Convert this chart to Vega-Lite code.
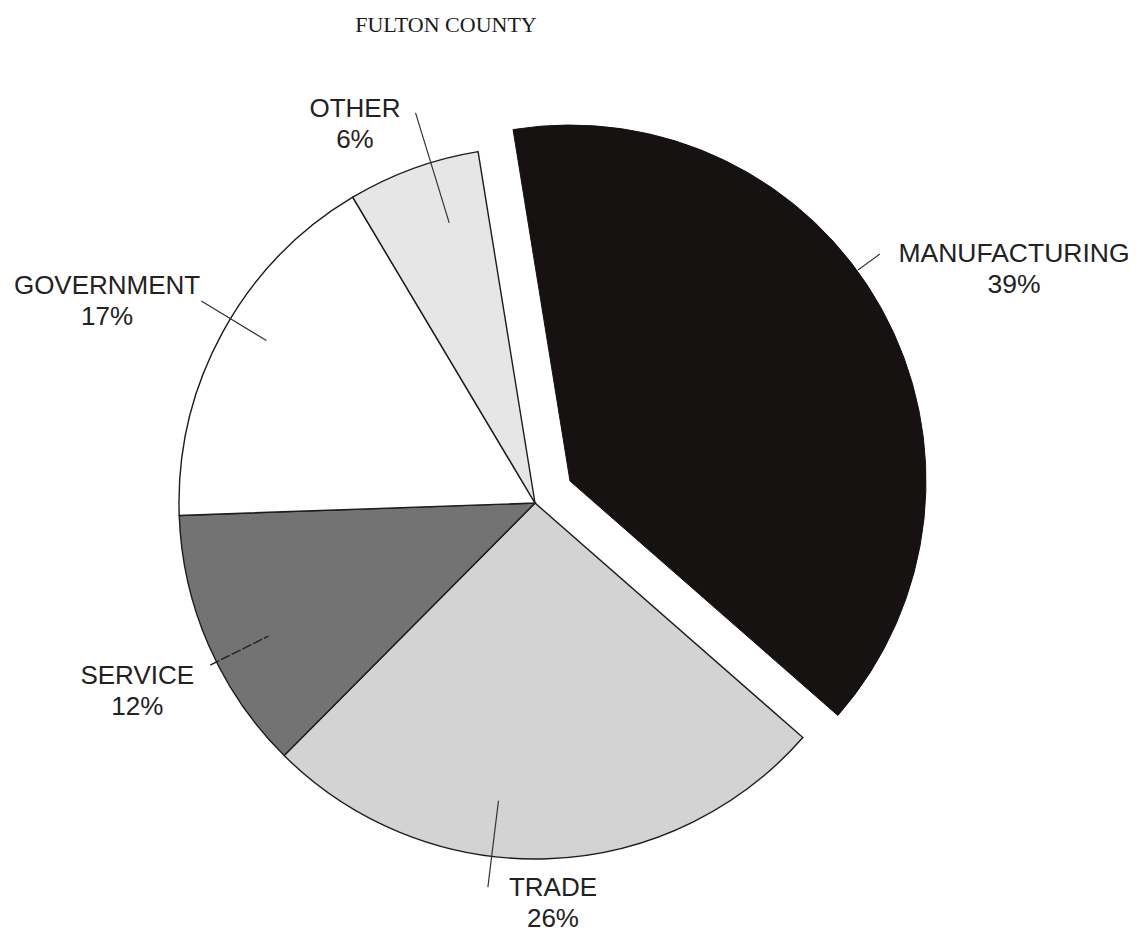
{
  "$schema": "https://vega.github.io/schema/vega-lite/v6.json",
  "description": "Fulton County employment by sector",
  "autosize": "none",
  "width": 1070,
  "height": 860,
  "padding": {"left": 0, "top": 73, "right": 76, "bottom": 0},
  "background": "#ffffff",
  "title": {
    "text": "FULTON COUNTY",
    "font": "Liberation Serif",
    "fontSize": 22,
    "fontWeight": "normal",
    "color": "#1a1a1a",
    "anchor": "middle",
    "frame": "group",
    "dx": -89,
    "offset": 36
  },
  "config": {
    "view": {"stroke": null},
    "text": {"font": "Liberation Sans", "fontSize": 26, "lineBreak": "|", "lineHeight": 31, "color": "#222222", "dy": -15}
  },
  "data": {
    "values": [
      {"order": 1, "sector": "MANUFACTURING", "pct": 39},
      {"order": 2, "sector": "TRADE", "pct": 26},
      {"order": 3, "sector": "SERVICE", "pct": 12},
      {"order": 4, "sector": "GOVERNMENT", "pct": 17},
      {"order": 5, "sector": "OTHER", "pct": 6}
    ]
  },
  "transform": [
    {"window": [{"op": "sum", "field": "pct", "as": "end"}], "sort": [{"field": "order"}], "frame": [null, 0]},
    {"calculate": "datum.end - datum.pct", "as": "start"},
    {"calculate": "datum.end - datum.pct / 2", "as": "mid"},
    {"calculate": "datum.sector + '|' + datum.pct + '%'", "as": "label"}
  ],
  "layer": [
    {
      "transform": [{"filter": "datum.sector != 'MANUFACTURING'"}],
      "mark": {"type": "arc", "radius": 356, "stroke": "#1c1c1c", "strokeWidth": 1.4},
      "encoding": {
        "theta": {"field": "start", "type": "quantitative", "stack": null, "scale": {"domain": [0, 100], "range": [-0.1606, 6.1226]}},
        "theta2": {"field": "end"},
        "fill": {
          "field": "sector",
          "type": "nominal",
          "scale": {"domain": ["MANUFACTURING", "TRADE", "SERVICE", "GOVERNMENT", "OTHER"], "range": ["#161212", "#d3d3d3", "#737373", "#ffffff", "#e6e6e6"]},
          "legend": null
        }
      }
    },
    {
      "transform": [{"filter": "datum.sector == 'MANUFACTURING'"}],
      "mark": {"type": "arc", "radius": 356, "xOffset": 35, "yOffset": -22, "fill": "#161212", "stroke": "#161212", "strokeWidth": 1},
      "encoding": {
        "theta": {"field": "start", "type": "quantitative", "stack": null, "scale": {"domain": [0, 100], "range": [-0.1606, 6.1226]}},
        "theta2": {"field": "end"}
      }
    },
    {
      "transform": [{"filter": "datum.sector == 'MANUFACTURING'"}],
      "mark": {"type": "arc", "radius": 384, "radius2": 357, "thetaOffset": -0.126, "theta2Offset": -0.126, "xOffset": 35, "yOffset": -22, "fill": null, "stroke": "#333333", "strokeWidth": 1.2},
      "encoding": {
        "theta": {"field": "mid", "type": "quantitative", "stack": null, "scale": {"domain": [0, 100], "range": [-0.1606, 6.1226]}},
        "theta2": {"field": "mid"}
      }
    },
    {
      "transform": [{"filter": "datum.sector == 'TRADE'"}],
      "mark": {"type": "arc", "radius": 387, "radius2": 300, "thetaOffset": 0.157, "theta2Offset": 0.157, "fill": null, "stroke": "#333333", "strokeWidth": 1.2},
      "encoding": {
        "theta": {"field": "mid", "type": "quantitative", "stack": null, "scale": {"domain": [0, 100], "range": [-0.1606, 6.1226]}},
        "theta2": {"field": "mid"}
      }
    },
    {
      "transform": [{"filter": "datum.sector == 'SERVICE'"}],
      "mark": {"type": "arc", "radius": 363, "radius2": 298, "thetaOffset": -0.051, "theta2Offset": -0.051, "fill": null, "stroke": "#222222", "strokeWidth": 1.4, "strokeDash": [7, 5]},
      "encoding": {
        "theta": {"field": "mid", "type": "quantitative", "stack": null, "scale": {"domain": [0, 100], "range": [-0.1606, 6.1226]}},
        "theta2": {"field": "mid"}
      }
    },
    {
      "transform": [{"filter": "datum.sector == 'GOVERNMENT'"}],
      "mark": {"type": "arc", "radius": 390, "radius2": 314, "thetaOffset": 0.045, "theta2Offset": 0.045, "fill": null, "stroke": "#333333", "strokeWidth": 1.2},
      "encoding": {
        "theta": {"field": "mid", "type": "quantitative", "stack": null, "scale": {"domain": [0, 100], "range": [-0.1606, 6.1226]}},
        "theta2": {"field": "mid"}
      }
    },
    {
      "transform": [{"filter": "datum.sector == 'OTHER'"}],
      "mark": {"type": "arc", "radius": 408, "radius2": 293, "thetaOffset": 0.052, "theta2Offset": 0.052, "fill": null, "stroke": "#333333", "strokeWidth": 1.2},
      "encoding": {
        "theta": {"field": "mid", "type": "quantitative", "stack": null, "scale": {"domain": [0, 100], "range": [-0.1606, 6.1226]}},
        "theta2": {"field": "mid"}
      }
    },
    {
      "transform": [{"filter": "datum.sector == 'MANUFACTURING'"}],
      "mark": {"type": "text", "radius": 533, "thetaOffset": 0.052, "fontSize": 26.5},
      "encoding": {
        "theta": {"field": "mid", "type": "quantitative", "stack": null, "scale": {"domain": [0, 100], "range": [-0.1606, 6.1226]}},
        "text": {"field": "label"}
      }
    },
    {
      "transform": [{"filter": "datum.sector == 'TRADE'"}],
      "mark": {"type": "text", "radius": 400, "thetaOffset": -0.010},
      "encoding": {
        "theta": {"field": "mid", "type": "quantitative", "stack": null, "scale": {"domain": [0, 100], "range": [-0.1606, 6.1226]}},
        "text": {"field": "label"}
      }
    },
    {
      "transform": [{"filter": "datum.sector == 'SERVICE'"}],
      "mark": {"type": "text", "radius": 440, "thetaOffset": -0.030},
      "encoding": {
        "theta": {"field": "mid", "type": "quantitative", "stack": null, "scale": {"domain": [0, 100], "range": [-0.1606, 6.1226]}},
        "text": {"field": "label"}
      }
    },
    {
      "transform": [{"filter": "datum.sector == 'GOVERNMENT'"}],
      "mark": {"type": "text", "radius": 473, "thetaOffset": -0.059},
      "encoding": {
        "theta": {"field": "mid", "type": "quantitative", "stack": null, "scale": {"domain": [0, 100], "range": [-0.1606, 6.1226]}},
        "text": {"field": "label"}
      }
    },
    {
      "transform": [{"filter": "datum.sector == 'OTHER'"}],
      "mark": {"type": "text", "radius": 420, "thetaOffset": -0.094},
      "encoding": {
        "theta": {"field": "mid", "type": "quantitative", "stack": null, "scale": {"domain": [0, 100], "range": [-0.1606, 6.1226]}},
        "text": {"field": "label"}
      }
    }
  ]
}
